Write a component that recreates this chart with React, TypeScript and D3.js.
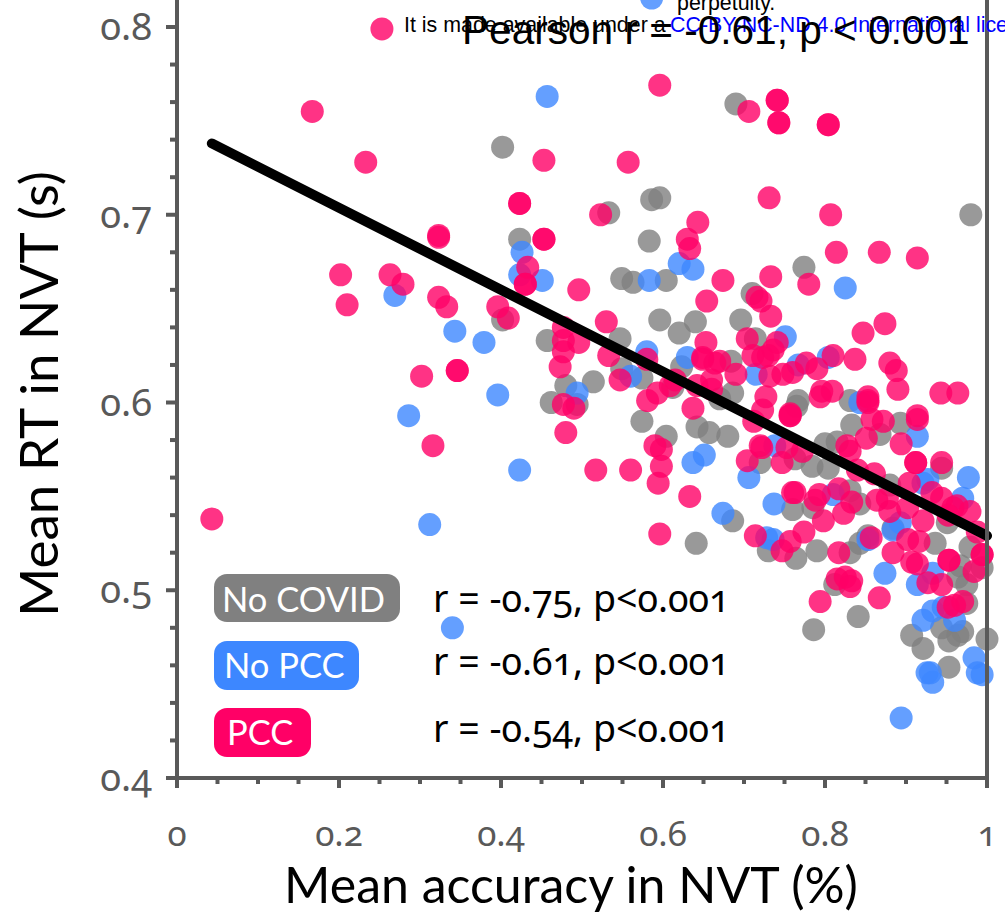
import React from "react";
import * as d3 from "d3";

type P = [number, number];

// Mean accuracy, mean RT
const noCovid: P[] = [
[.402,.736],[.690,.759],[.980,.700],[.774,.672],[.710,.658],[.696,.644],[.714,.634],[.684,.622],[.686,.605],[.767,.601],[.831,.601],
[.642,.587],[.657,.584],[.680,.582],[.765,.598],[.833,.588],[.893,.589],[.868,.583],[.815,.579],[.800,.578],[.763,.570],[.720,.568],
[.784,.566],[.804,.565],[.944,.565],[.880,.556],[.760,.543],[.785,.544],[.831,.553],[.843,.546],[.951,.536],[.884,.533],[.686,.537],
[.730,.521],[.764,.517],[.790,.521],[.641,.525],[.831,.520],[.843,.525],[.853,.529],[.936,.525],[.979,.523],[.967,.513],[.994,.512],
[.975,.503],[.964,.507],[.812,.503],[.841,.486],[.786,.479],[.975,.493],[.944,.480],[.970,.478],[.964,.476],[.953,.473],[.907,.476],
[.921,.469],[1.0,.474],[.953,.459],[.533,.701],[.586,.708],[.596,.709],[.583,.686],[.423,.687],[.549,.666],[.563,.664],[.604,.665],
[.402,.644],[.457,.633],[.547,.634],[.596,.644],[.620,.637],[.640,.643],[.623,.619],[.549,.618],[.574,.613],[.514,.611],[.480,.609],
[.462,.600],[.494,.599],[.574,.590],[.604,.582],[.670,.602],[.612,.608],
];

const noPcc: P[] = [
[.457,.763],[.269,.657],[.343,.638],[.379,.632],[.286,.593],[.396,.604],[.312,.535],[.423,.564],[.340,.480],[.426,.680],[.423,.668],
[.451,.665],[.620,.674],[.637,.671],[.583,.665],[.825,.661],[.751,.635],[.715,.615],[.804,.624],[.767,.620],[.843,.600],[.580,.627],
[.560,.614],[.494,.605],[.630,.624],[.637,.568],[.651,.572],[.914,.582],[.738,.577],[.706,.560],[.977,.560],[.927,.559],[.921,.557],
[.970,.549],[.737,.546],[.810,.551],[.893,.536],[.884,.532],[.674,.541],[.728,.528],[.736,.527],[.853,.527],[.933,.509],[.914,.503],
[.874,.509],[.933,.489],[.946,.491],[.921,.484],[.960,.484],[.984,.464],[.926,.456],[.930,.456],[.933,.451],[.988,.456],[.994,.455],[.894,.432],
];

const pcc: P[] = [
[.167,.755],[.233,.728],[.323,.689],[.323,.688],[.202,.668],[.263,.668],[.279,.663],[.210,.652],[.323,.656],[.333,.651],[.302,.614],
[.346,.617],[.346,.617],[.316,.577],[.043,.538],[.453,.729],[.557,.728],[.596,.769],[.706,.755],[.741,.761],[.741,.761],[.743,.749],
[.743,.749],[.804,.748],[.804,.748],[.731,.709],[.807,.700],[.814,.680],[.867,.680],[.914,.677],[.733,.667],[.780,.663],[.674,.665],
[.716,.656],[.721,.654],[.733,.646],[.874,.642],[.847,.637],[.704,.634],[.741,.632],[.736,.628],[.730,.625],[.723,.624],[.711,.625],
[.670,.622],[.690,.615],[.810,.625],[.837,.623],[.880,.621],[.888,.617],[.777,.621],[.790,.618],[.760,.616],[.748,.615],[.732,.614],
[.727,.603],[.723,.596],[.757,.594],[.809,.606],[.796,.606],[.794,.603],[.853,.603],[.853,.601],[.890,.607],[.943,.605],[.964,.605],
[.914,.593],[.637,.597],[.712,.590],[.757,.593],[.757,.593],[.853,.600],[.858,.591],[.872,.590],[.914,.591],[.851,.581],[.894,.578],
[.827,.577],[.831,.574],[.720,.577],[.722,.576],[.753,.576],[.772,.574],[.704,.569],[.747,.568],[.840,.564],[.861,.562],[.912,.568],
[.912,.568],[.944,.568],[.904,.557],[.932,.552],[.944,.549],[.963,.545],[.958,.544],[.979,.542],[.952,.540],[.633,.550],[.760,.552],
[.763,.552],[.788,.548],[.793,.551],[.817,.554],[.833,.547],[.864,.548],[.880,.542],[.877,.549],[.902,.544],[.921,.537],[.988,.531],
[.823,.541],[.798,.537],[.714,.529],[.757,.526],[.747,.521],[.774,.531],[.817,.520],[.857,.528],[.902,.527],[.916,.526],[.884,.520],
[.907,.515],[.914,.514],[.953,.516],[.953,.516],[.994,.519],[.994,.519],[.984,.510],[.927,.504],[.944,.503],[.815,.506],[.825,.507],
[.833,.505],[.831,.502],[.867,.496],[.794,.494],[.970,.494],[.960,.492],[.952,.491],[.423,.706],[.423,.706],[.453,.687],[.453,.687],
[.433,.672],[.430,.663],[.430,.663],[.496,.660],[.523,.700],[.643,.696],[.630,.687],[.633,.682],[.654,.654],[.396,.651],[.409,.645],
[.477,.640],[.477,.633],[.496,.632],[.477,.627],[.473,.619],[.530,.643],[.533,.625],[.580,.623],[.547,.612],[.477,.599],[.490,.597],
[.480,.584],[.590,.577],[.598,.575],[.598,.566],[.594,.557],[.517,.564],[.560,.564],[.596,.530],[.653,.632],[.649,.623],[.664,.621],
[.649,.624],[.660,.612],[.642,.609],[.660,.607],[.615,.612],[.609,.609],[.593,.605],[.581,.601],
];

// legend marks of another figure showing through at the top of the page
const strayPcc: P[] = [[.253,.799]];
const strayNoPcc: P[] = [[.586,.8154]];

const fitLine: P[] = [[.043,.738],[1.0,.529]];

const xMajor = [0, .2, .4, .6, .8, 1];
const xLabels = ["0", "0.2", "0.4", "0.6", "0.8", "1"];
const yMajor = [.4, .5, .6, .7, .8];
const yLabels = ["0.4", "0.5", "0.6", "0.7", "0.8"];
const legendNames = ["No COVID", "No PCC", "PCC"];
const statTexts = ["r = -0.75, p<0.001", "r = -0.61, p<0.001", "r = -0.54, p<0.001"];

const GREY = "#808080", BLUE = "#3d87ff", PINK = "#ff0066", AXIS = "#595959";
const HUMAN = "Lato";
const NUMS = "Noto Sans";
const SANS = "Liberation Sans";
const ONUM: React.CSSProperties = { fontVariantNumeric: "oldstyle-nums", fontFeatureSettings: '"onum"' };

const x = d3.scaleLinear().domain([0, 1]).range([177, 987]);
const y = d3.scaleLinear().domain([.4, .8]).range([778, 27]);

const Dots = ({ data, fill }: { data: P[]; fill: string }) => (
  <g fill={fill} fillOpacity={0.8}>
    {data.map((d, i) => <circle key={i} cx={x(d[0])} cy={y(d[1])} r={11.5} />)}
  </g>
);

export default function App() {
  const line = d3.line<P>().x(d => x(d[0])).y(d => y(d[1]));
  const xMinor = d3.range(0, 1.0001, .05);
  const yMinor = d3.range(.4, .9, .02);
  const legendRects = [[214, 574, 186, 48], [214, 641, 145, 49], [214, 708, 97, 49]];
  const legendTextX = [222, 224, 227];
  const legendBase = [612, 678, 745];
  const statBase = [612, 675, 742];
  return (
    <svg width={1005} height={916} style={{ position: "absolute", left: 0, top: 0, display: "block", background: "#fff" }}>
      <Dots data={noCovid} fill={GREY} />
      <Dots data={noPcc} fill={BLUE} />
      <Dots data={pcc} fill={PINK} />
      <Dots data={strayPcc} fill={PINK} />
      <Dots data={strayNoPcc} fill={BLUE} />
      <path d={line(fitLine) || ""} stroke="#000" strokeWidth={10} strokeLinecap="round" fill="none" />

      <g stroke={AXIS} strokeWidth={4} fill="none">
        <line x1={x(0)} x2={x(0)} y1={0} y2={y(.4) + 2} />
        <line x1={x(1)} x2={x(1)} y1={0} y2={y(.4) + 2} />
        <line x1={x(0) - 2} x2={x(1) + 2} y1={y(.4)} y2={y(.4)} />
        {xMinor.map((t, i) => <line key={i} x1={x(t)} x2={x(t)} y1={y(.4)} y2={y(.4) + (i % 4 === 0 ? 10 : 6)} />)}
        {yMinor.map((t, i) => <line key={i} y1={y(t)} y2={y(t)} x1={x(0)} x2={x(0) - (i % 5 === 0 ? 11 : 7)} />)}
      </g>

      {yMajor.map((t, i) => <text key={t} x={152} y={y(t) + 13} textAnchor="end" fill={AXIS} fontFamily={NUMS} fontSize={38} style={ONUM}>{yLabels[i]}</text>)}
      {xMajor.map((t, i) => <text key={t} x={x(t)} y={846} textAnchor="middle" fill={AXIS} fontFamily={NUMS} fontSize={35} style={ONUM}>{xLabels[i]}</text>)}
      <text x={571} y={903} textAnchor="middle" fontFamily={HUMAN} fontSize={50} fill="#000">Mean accuracy in NVT (%)</text>
      <text transform="translate(58,394) rotate(-90)" textAnchor="middle" fontFamily={HUMAN} fontSize={53} fill="#000">Mean RT in NVT (s)</text>

      {legendRects.map((r, i) => (
        <g key={i}>
          <rect x={r[0]} y={r[1]} width={r[2]} height={r[3]} rx={13} fill={[GREY, BLUE, PINK][i]} />
          <text x={legendTextX[i]} y={legendBase[i]} fill="#fff" fontFamily={HUMAN} fontSize={34.5}>{legendNames[i]}</text>
          <text x={433} y={statBase[i]} fill="#000" fontFamily={NUMS} fontSize={37.5} style={ONUM}>{statTexts[i]}</text>
        </g>
      ))}

      <text x={677} y={10} fontFamily={SANS} fontSize={21.4} fill="#000">perpetuity.</text>
      <text x={404} y={32} fontFamily={SANS} fontSize={21.4} fill="#000">It is made available under a</text>
      <text x={670} y={32} fontFamily={SANS} fontSize={21.4} fill="#0000ff">CC-BY-NC-ND 4.0 International license</text>
      <text x={462} y={43.5} fontFamily={SANS} fontSize={40.6} fill="#000">Pearson r = -0.61, p &lt; 0.001</text>
    </svg>
  );
}
